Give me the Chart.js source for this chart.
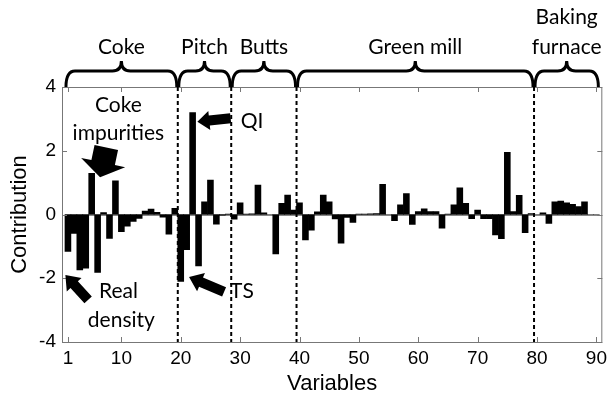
<!DOCTYPE html>
<html>
<head>
<meta charset="utf-8">
<script src="https://cdn.jsdelivr.net/npm/chart.js@4.4.0/dist/chart.umd.min.js"></script>
<style>
    html, body { margin: 0; padding: 0; background: #fff; }
    #wrap { width: 612px; height: 395px; }
</style>
</head>
<body>
<div id="wrap"><canvas id="myChart" width="612" height="395"></canvas></div>
<script>
// contribution of each process variable (1..90)
const contributions = [
    -1.16, -0.59, -1.74, -1.68, 1.29, -1.82, 0.06, -0.75, 1.06, -0.54,
    -0.37, -0.22, -0.12, 0.11, 0.17, 0.07, -0.08, -0.62, 0.19, -2.10,
    -1.10, 3.20, -1.61, 0.40, 1.08, -0.30, -0.02, 0.01, -0.15, 0.37,
    0.01, 0.02, 0.92, 0.05, 0.00, -1.24, 0.35, 0.61, 0.14, 0.37,
    -0.80, -0.49, 0.08, 0.61, 0.40, -0.14, -0.90, -0.09, -0.25, 0.01,
    0.01, 0.02, 0.03, 0.95, 0.00, -0.19, 0.30, 0.66, -0.31, 0.09,
    0.18, 0.09, 0.09, -0.43, 0.01, 0.30, 0.84, 0.35, -0.13, 0.14,
    -0.13, -0.13, -0.64, -0.76, 1.95, 0.09, 0.60, -0.57, 0.03, 0.00,
    0.05, -0.28, 0.40, 0.42, 0.37, 0.32, 0.25, 0.40, 0.00, 0.00
];
const variableIds = contributions.map((c, i) => i + 1);
const xTickValues = [1, 10, 20, 30, 40, 50, 60, 70, 80, 90];
const yTickValues = [-4, -2, 0, 2, 4];

// process sections shown as braces on top
const sectionNames = [['Coke'], ['Pitch'], ['Butts'], ['Green mill'], ['Baking', 'furnace']];
const sectionBounds = [0.5, 19.5, 28.5, 39.5, 79.5, 90.5];

// annotations (data coordinates)
const noteTexts = ['Coke', 'impurities', 'Real', 'density', 'QI', 'TS'];
const noteX = [9.5, 9.5, 9.5, 10.0, 32.0, 30.3];
const noteY = [3.43, 2.55, -2.42, -3.31, 2.94, -2.42];
const arrowTails = [[7.46, 2.10], [28.4, 3.02], [27.3, -2.43], [4.4, -2.68]];
const arrowTips = [[6.41, 1.17], [22.8, 2.91], [21.4, -1.96], [0.57, -1.90]];
const arrowSizes = [[24, 45, 15], [10, 19, 12], [10, 20, 13], [10, 20, 13]]; // shaft, head width, head length

const textFont = '21px Lato';
const axisFont = 'Liberation Sans';

function blockArrow(ctx, x0, y0, x1, y1, sw, hw, hl) {
    let dx = x1 - x0, dy = y1 - y0;
    let len = Math.sqrt(dx * dx + dy * dy);
    let ux = dx / len, uy = dy / len;
    let px = -uy, py = ux;
    let bx = x1 - ux * hl, by = y1 - uy * hl;
    ctx.beginPath();
    ctx.moveTo(x0 + px * sw / 2, y0 + py * sw / 2);
    ctx.lineTo(bx + px * sw / 2, by + py * sw / 2);
    ctx.lineTo(bx + px * hw / 2, by + py * hw / 2);
    ctx.lineTo(x1, y1);
    ctx.lineTo(bx - px * hw / 2, by - py * hw / 2);
    ctx.lineTo(bx - px * sw / 2, by - py * sw / 2);
    ctx.lineTo(x0 - px * sw / 2, y0 - py * sw / 2);
    ctx.closePath();
    ctx.fill();
}

function drawBrace(ctx, x1, x2, yBase, yMid, yTip) {
    let xm = (x1 + x2) / 2;
    let r = 9;
    ctx.beginPath();
    ctx.moveTo(x1, yBase);
    ctx.quadraticCurveTo(x1, yMid, x1 + r, yMid);
    ctx.lineTo(xm - r, yMid);
    ctx.quadraticCurveTo(xm, yMid, xm, yTip);
    ctx.quadraticCurveTo(xm, yMid, xm + r, yMid);
    ctx.lineTo(x2 - r, yMid);
    ctx.quadraticCurveTo(x2, yMid, x2, yBase);
    ctx.stroke();
}

const decorPlugin = {
    id: 'decor',
    beforeDatasetsDraw(chart) {
        let ctx = chart.ctx, y = chart.scales.y, a = chart.chartArea;
        ctx.save();
        //zero baseline
        ctx.strokeStyle = '#888';
        ctx.lineWidth = 1;
        ctx.beginPath();
        ctx.moveTo(a.left, Math.round(y.getPixelForValue(0)) + 0.5);
        ctx.lineTo(a.right, Math.round(y.getPixelForValue(0)) + 0.5);
        ctx.stroke();
        ctx.restore();
    },
    afterDraw(chart) {
        let ctx = chart.ctx, x = chart.scales.x, y = chart.scales.y, a = chart.chartArea;
        ctx.save();
        //box + inward ticks
        ctx.strokeStyle = '#777';
        ctx.lineWidth = 1;
        ctx.strokeRect(a.left + 0.5, a.top + 0.5, a.right - a.left - 1, a.bottom - a.top);
        ctx.beginPath();
        xTickValues.forEach(v => {
            let px = Math.round(x.getPixelForValue(v)) + 0.5;
            ctx.moveTo(px, a.bottom); ctx.lineTo(px, a.bottom - 5);
            ctx.moveTo(px, a.top); ctx.lineTo(px, a.top + 5);
        });
        yTickValues.forEach(v => {
            let py = Math.round(y.getPixelForValue(v)) + 0.5;
            ctx.moveTo(a.left, py); ctx.lineTo(a.left + 5, py);
            ctx.moveTo(a.right, py); ctx.lineTo(a.right - 5, py);
        });
        ctx.stroke();

        //section separators
        ctx.strokeStyle = '#000';
        ctx.lineWidth = 2;
        ctx.setLineDash([4, 3]);
        ctx.beginPath();
        sectionBounds.slice(1, -1).forEach(b => {
            let px = x.getPixelForValue(b);
            ctx.moveTo(px, a.top);
            ctx.lineTo(px, a.bottom);
        });
        ctx.stroke();
        ctx.setLineDash([]);

        //braces + section names
        ctx.lineWidth = 3;
        ctx.fillStyle = '#000';
        ctx.font = textFont;
        ctx.textAlign = 'center';
        ctx.textBaseline = 'middle';
        for (let i = 0; i < sectionNames.length; i++) {
            let x1 = x.getPixelForValue(sectionBounds[i]) + 1;
            let x2 = x.getPixelForValue(sectionBounds[i + 1]) - 1;
            drawBrace(ctx, x1, x2, a.top, a.top - 16, a.top - 26);
            let lines = sectionNames[i];
            lines.forEach((t, j) => {
                ctx.fillText(t, (x1 + x2) / 2, a.top - 40 - (lines.length - 1 - j) * 30);
            });
        }

        //arrows
        for (let i = 0; i < arrowTails.length; i++) {
            blockArrow(ctx,
                x.getPixelForValue(arrowTails[i][0]), y.getPixelForValue(arrowTails[i][1]),
                x.getPixelForValue(arrowTips[i][0]), y.getPixelForValue(arrowTips[i][1]),
                arrowSizes[i][0], arrowSizes[i][1], arrowSizes[i][2]);
        }
        //notes
        for (let i = 0; i < noteTexts.length; i++) {
            ctx.fillText(noteTexts[i], x.getPixelForValue(noteX[i]), y.getPixelForValue(noteY[i]));
        }
        ctx.restore();
    }
};

new Chart(document.getElementById('myChart'), {
    type: 'bar',
    data: {
        datasets: [{
            label: 'Contribution',
            data: variableIds.map((v, i) => ({x: v, y: contributions[i]})),
            backgroundColor: '#000',
            borderWidth: 0,
            barPercentage: 1,
            categoryPercentage: 1
        }]
    },
    options: {
        responsive: false,
        animation: false,
        layout: {padding: {top: 87, right: 5, left: 0, bottom: 0}},
        plugins: {legend: {display: false}, tooltip: {enabled: false}},
        scales: {
            x: {
                type: 'linear',
                offset: false,
                min: 0,
                max: 91,
                afterBuildTicks: (scale) => { scale.ticks = xTickValues.map(v => ({value: v})); },
                afterFit: (scale) => { scale.height = 53; },
                grid: {display: false, drawTicks: false, offset: false},
                border: {display: false},
                ticks: {color: '#000', padding: 5, maxRotation: 0, autoSkip: false, font: {family: axisFont, size: 19}},
                title: {display: true, text: 'Variables', color: '#000', padding: {top: 0, bottom: 0}, font: {family: axisFont, size: 22, lineHeight: 1}}
            },
            y: {
                min: -4,
                max: 4,
                afterBuildTicks: (scale) => { scale.ticks = yTickValues.map(v => ({value: v})); },
                afterFit: (scale) => { scale.width = 62; },
                grid: {display: false, drawTicks: false},
                border: {display: false},
                ticks: {color: '#000', padding: 6, font: {family: axisFont, size: 19}},
                title: {display: true, text: 'Contribution', color: '#000', padding: {top: 9, bottom: 0}, font: {family: axisFont, size: 22, lineHeight: 1}}
            }
        }
    },
    plugins: [decorPlugin]
});
</script>
</body>
</html>
